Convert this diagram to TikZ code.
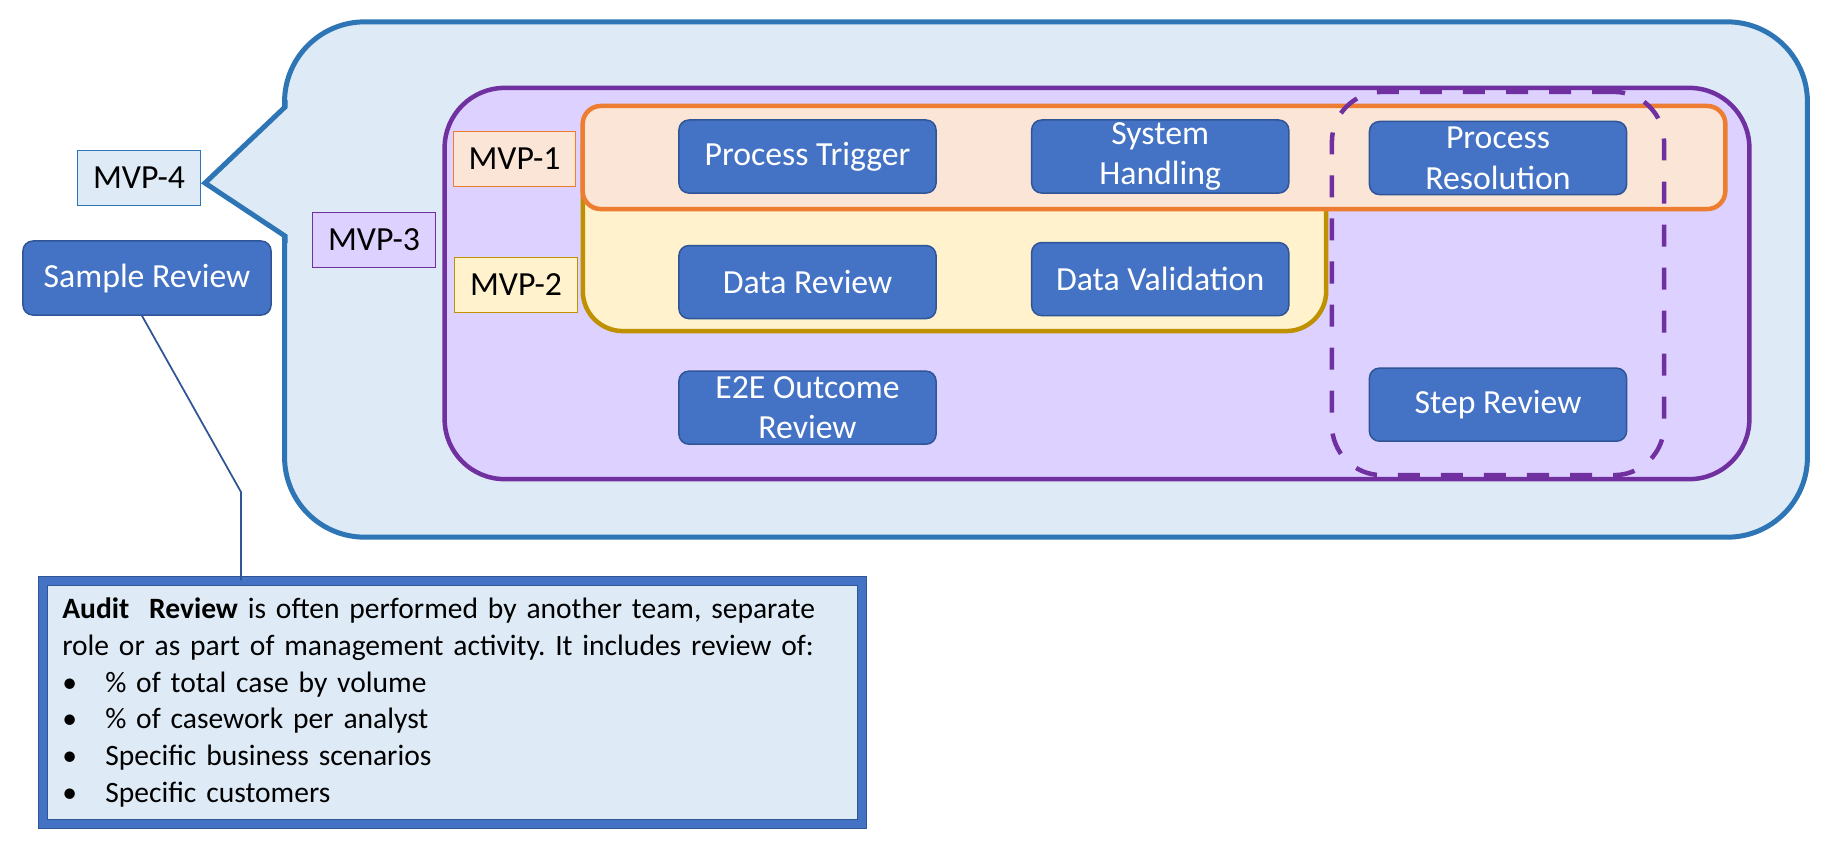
\documentclass[tikz,border=0pt]{standalone}
\usepackage{fontspec}
\setmainfont{Carlito}
\usepackage{tikz}
\usetikzlibrary{positioning}
\frenchspacing

\definecolor{calloutfill}{HTML}{DEEBF7}
\definecolor{calloutline}{HTML}{2E75B6}
\definecolor{mvpthreefill}{HTML}{DDD1FF}
\definecolor{mvpthreeline}{HTML}{7030A0}
\definecolor{mvponefill}{HTML}{FBE5D6}
\definecolor{mvponeline}{HTML}{ED7D31}
\definecolor{mvptwofill}{HTML}{FFF2CC}
\definecolor{mvptwoline}{HTML}{BF9000}
\definecolor{boxfill}{HTML}{4472C4}
\definecolor{boxline}{HTML}{2F5597}

\newcommand{\bul}{\makebox[0.43cm][l]{\textbullet}}

\begin{document}
\begin{tikzpicture}[
  x=0.01cm, y=-0.01cm,
  node distance=0.51cm and 0.94cm,
  box/.style={draw=boxline, fill=boxfill, text=white, rounded corners=0.1cm, line width=0.015cm, minimum width=2.57cm, minimum height=0.73cm, inner sep=0pt, align=center, font=\fontsize{9.6}{11.6}\selectfont},
  lbl/.style={draw, line width=0.01cm, minimum width=1.22cm, minimum height=0.55cm, inner sep=0pt, font=\fontsize{9.6}{11.6}\selectfont},
  group/.style={rounded corners=#1, line width=0.045cm, inner sep=0pt},
  dashbox/.style={draw=mvpthreeline, line width=0.045cm, dash pattern=on 0.22cm off 0.21cm, rounded corners=0.5cm, inner sep=0pt},
  auditbox/.style={draw=boxline, double=boxfill, double distance=0.08cm, line width=0.012cm, fill=calloutfill, minimum width=8.19cm, minimum height=2.43cm, text width=7.8cm, align=left, inner sep=0pt, font=\fontsize{8.4}{10.5}\selectfont},
  link/.style={draw=boxline, line width=0.5pt}
]
  \useasboundingbox (0,0) rectangle (1832,853);

  \node[group=0.8cm, draw=calloutline, fill=calloutfill, line width=0.05cm, minimum width=15.22cm, minimum height=5.15cm] (mvpfour) at (1046,279.5) {};
  \fill[calloutfill] (289,104) -- (205,183) -- (289,239) -- cycle;
  \draw[calloutline, line width=0.05cm, line join=miter] (285,100) -- (285,107) -- (205,183) -- (285,236) -- (285,243);

  \node[group=0.6cm, draw=mvpthreeline, fill=mvpthreefill, minimum width=13.04cm, minimum height=3.91cm] (mvpthree) at (1097,283.5) {};
  \node[group=0.4cm, draw=mvptwoline, fill=mvptwofill, minimum width=7.43cm, minimum height=2.21cm] (mvptwo) at (954.5,220.5) {};
  \node[group=0.18cm, draw=mvponeline, fill=mvponefill, minimum width=11.42cm, minimum height=1.03cm] (mvpone) at (1154,157.5) {};
  \node[dashbox, minimum width=3.32cm, minimum height=3.83cm] (steps) at (1498,283.5) {};

  \node[box] (trigger) at (807.5,156.5) {Process Trigger};
  \node[box, right=of trigger] (handling) {System\\Handling};
  \node[box] (resolution) at (1498,158) {Process\\Resolution};
  \node[box, below=of trigger] (datareview) {Data Review};
  \node[box, below=0.48cm of handling] (validation) {Data Validation};
  \node[box, below=of datareview] (outcome) {E2E Outcome\\Review};
  \node[box, below=1.72cm of resolution] (stepreview) {Step Review};

  \node[lbl, draw=calloutline, fill=calloutfill] (lblfour) at (139,178) {MVP-4};
  \node[lbl, draw=mvpthreeline, fill=mvpthreefill] (lblthree) at (374,239.5) {MVP-3};
  \node[lbl, draw=mvponeline, fill=mvponefill] (lblone) at (514.5,158.5) {MVP-1};
  \node[lbl, draw=mvptwoline, fill=mvptwofill] (lbltwo) at (516,284.5) {MVP-2};

  \node[box, minimum width=2.48cm, minimum height=0.74cm] (sample) at (147,278) {Sample Review};

  \node[auditbox] (audit) at (452.5,702.5) {\textbf{Audit\ \ Review} is often performed by another team, separate\\
    role or as part of management activity. It includes review of:\\
    \bul\% of total case by volume\\
    \bul\% of casework per analyst\\
    \bul Specific business scenarios\\
    \bul Specific customers};

  \coordinate (bend) at (241,492);
  \draw[link] ([xshift=-0.05cm]sample.south) -- (bend) -- (bend |- audit.north);
\end{tikzpicture}
\end{document}
